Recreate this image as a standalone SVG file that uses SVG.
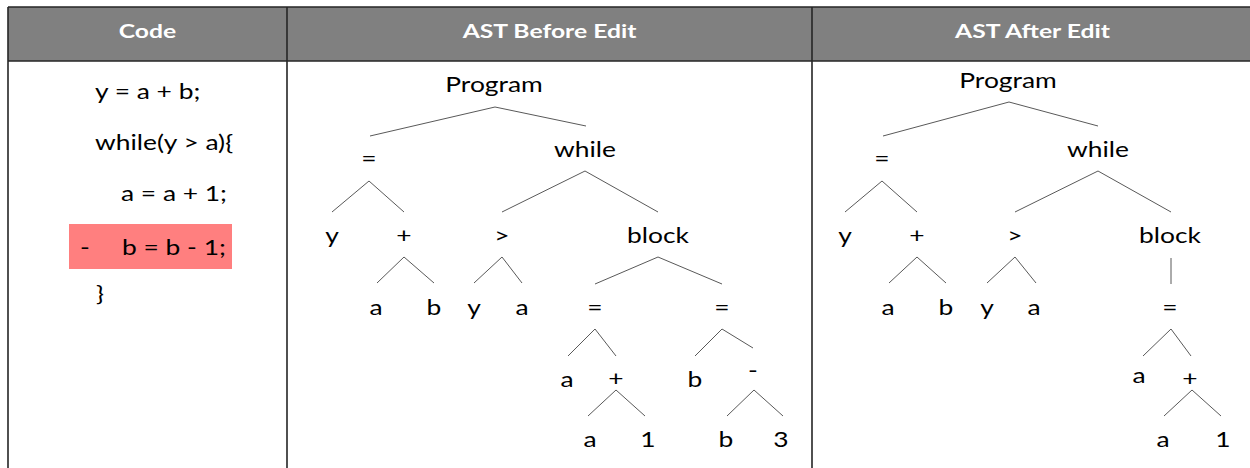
<svg xmlns="http://www.w3.org/2000/svg" width="1250" height="468" viewBox="0 0 1250 468">
<style>
  text { font-family: Lato, "Open Sans", "Liberation Sans", sans-serif; fill: #000; }
  .hd { font-size: 19px; font-weight: bold; fill: #fff; text-anchor: middle; }
  .code { font-size: 22px; }
  .n { font-size: 22px; text-anchor: middle; }
  .e { stroke: #595959; stroke-width: 1; fill: none; }
  .grid { stroke: #262626; stroke-width: 1.6; fill: none; }
</style>
<rect width="1250" height="468" fill="#fff"/>
<g id="table">
  <rect x="8" y="7" width="1245" height="54" fill="#808080"/>
  <path class="grid" d="M8 7 H1252 M8 61 H1252 M8 7 V468 M287 7 V468 M812 7 V468"/>
  <g transform="scale(1.3,1)">
    <text class="hd" x="113.46" y="38">Code</text>
    <text class="hd" x="422.69" y="38">AST Before Edit</text>
    <text class="hd" x="794.23" y="38">AST After Edit</text>
  </g>
</g>
<g id="code">
  <rect x="69" y="224" width="163" height="45" fill="#ff7f7f"/>
  <g transform="scale(1.2,1)">
    <text class="code" x="79.17" y="99">y = a + b;</text>
    <text class="code" x="79.17" y="150">while(y &gt; a){</text>
    <text class="code" x="100.83" y="201">a = a + 1;</text>
    <text class="code" x="66.67" y="255">-</text>
    <text class="code" x="101.67" y="255">b = b - 1;</text>
    <text class="code" x="80" y="301">}</text>
  </g>
</g>
<g id="connectors">
  <path class="e" d="M495 107 L370 136 M495 107 L586 126"/>
  <path class="e" d="M369 181 L332 212 M369 181 L404 212"/>
  <path class="e" d="M585 171 L502 212 M585 171 L658 212"/>
  <path class="e" d="M404 257 L377 283 M404 257 L434 283"/>
  <path class="e" d="M502 257 L474 283 M502 257 L522 283"/>
  <path class="e" d="M658 257 L595 284 M658 257 L722 284"/>
  <path class="e" d="M595 329 L568 356 M595 329 L616 356"/>
  <path class="e" d="M722 329 L695 356 M722 329 L753 348"/>
  <path class="e" d="M616 390 L588 416 M616 390 L645 416"/>
  <path class="e" d="M754 390 L727 416 M754 390 L783 416"/>
  <path class="e" d="M1009 102 L883 136 M1009 102 L1098 126"/>
  <path class="e" d="M882 181 L845 212 M882 181 L917 212"/>
  <path class="e" d="M1098 171 L1015 212 M1098 171 L1171 212"/>
  <path class="e" d="M917 257 L889 283 M917 257 L946 283"/>
  <path class="e" d="M1015 257 L987 283 M1015 257 L1036 283"/>
  <path class="e" d="M1171 258 L1171 284"/>
  <path class="e" d="M1171 329 L1143 356 M1171 329 L1191 356"/>
  <path class="e" d="M1192 390 L1164 416 M1192 390 L1221 416"/>
</g>
<g id="before" transform="scale(1.2,1)">
  <text class="n" x="411.67" y="92">Program</text>
  <text class="n" x="307.5" y="166">=</text>
  <text class="n" x="487.5" y="157">while</text>
  <text class="n" x="276.67" y="243">y</text>
  <text class="n" x="336.67" y="243">+</text>
  <text class="n" x="418.33" y="243">&gt;</text>
  <text class="n" x="548.33" y="243">block</text>
  <text class="n" x="313.33" y="315">a</text>
  <text class="n" x="361.67" y="315">b</text>
  <text class="n" x="395" y="315">y</text>
  <text class="n" x="435" y="315">a</text>
  <text class="n" x="495.83" y="315">=</text>
  <text class="n" x="601.67" y="315">=</text>
  <text class="n" x="472.5" y="387">a</text>
  <text class="n" x="513.33" y="386">+</text>
  <text class="n" x="579.17" y="387">b</text>
  <text class="n" x="627.5" y="378">-</text>
  <text class="n" x="491.67" y="447">a</text>
  <text class="n" x="540" y="447">1</text>
  <text class="n" x="605" y="447">b</text>
  <text class="n" x="650.83" y="447">3</text>
</g>
<g id="after" transform="scale(1.2,1)">
  <text class="n" x="840" y="88">Program</text>
  <text class="n" x="735" y="166">=</text>
  <text class="n" x="915" y="157">while</text>
  <text class="n" x="704.17" y="243">y</text>
  <text class="n" x="764.17" y="243">+</text>
  <text class="n" x="845.83" y="243">&gt;</text>
  <text class="n" x="975" y="243">block</text>
  <text class="n" x="740" y="315">a</text>
  <text class="n" x="788.33" y="315">b</text>
  <text class="n" x="822.5" y="315">y</text>
  <text class="n" x="861.67" y="315">a</text>
  <text class="n" x="975" y="315">=</text>
  <text class="n" x="949.17" y="383">a</text>
  <text class="n" x="991.67" y="386">+</text>
  <text class="n" x="969.17" y="447">a</text>
  <text class="n" x="1019.17" y="447">1</text>
</g>
</svg>
